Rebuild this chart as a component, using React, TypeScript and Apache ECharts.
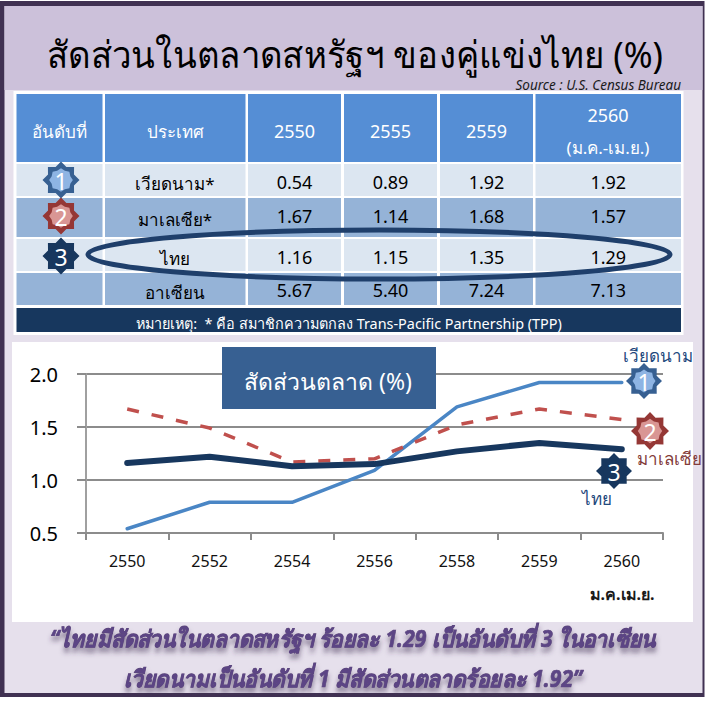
import React, { useEffect, useRef } from "react";
import * as echarts from "echarts";

const pageTitle = "สัดส่วนในตลาดสหรัฐฯ ของคู่แข่งไทย (%)";
const sourceText = "Source : U.S. Census Bureau";
const tableHeaders = ["อันดับที่", "ประเทศ", "2550", "2555", "2559"];
const lastHeader = ["2560", "(ม.ค.-เม.ย.)"];
const tableCountries = ["เวียดนาม*", "มาเลเซีย*", "ไทย", "อาเซียน"];
const row2550 = ["0.54", "1.67", "1.16", "5.67"];
const row2555 = ["0.89", "1.14", "1.15", "5.40"];
const row2559 = ["1.92", "1.68", "1.35", "7.24"];
const row2560 = ["1.92", "1.57", "1.29", "7.13"];
const noteText = "หมายเหตุ:  * คือ สมาชิกความตกลง Trans-Pacific Partnership (TPP)";
const chartTitle = "สัดส่วนตลาด (%)";
const years = ["2550", "2552", "2554", "2556", "2558", "2559", "2560"];
const vietnam = [0.54, 0.79, 0.79, 1.09, 1.69, 1.92, 1.92];
const malaysia = [1.67, 1.49, 1.17, 1.2, 1.52, 1.67, 1.57];
const thailand = [1.16, 1.22, 1.13, 1.15, 1.27, 1.35, 1.29];
const quote1 = "“ไทยมีสัดส่วนในตลาดสหรัฐฯ ร้อยละ 1.29 เป็นอันดับที่ 3 ในอาเซียน";
const quote2 = "เวียดนามเป็นอันดับที่ 1 มีสัดส่วนตลาดร้อยละ 1.92”";

const FONT = "'Noto Sans', sans-serif";
const colX = [[16.5, 102.5], [105, 245.5], [248, 341], [344, 437], [440, 533], [535.5, 681]];
const rowY = [[164, 196], [198, 237], [239, 271], [273, 305]];
const countryY = [183, 219, 258, 292];
const valueY = [182, 216, 257, 290];

function txt(x: number, y: number, text: string, size: number, fill: string, z = 1, extra: any = {}, scaleX = 1) {
  return {
    type: "text", x, y, z, scaleX,
    style: { text, fontSize: size, fill, fontFamily: FONT, align: "center", verticalAlign: "middle", ...extra },
  };
}
function rect(x: number, y: number, w: number, h: number, fill: string, z = 0, extra: any = {}) {
  return { type: "rect", z, shape: { x, y, width: w, height: h }, style: { fill, ...extra } };
}
function starPts(cx: number, cy: number, rx: number, ry: number, k: number) {
  const pts: number[][] = [];
  for (let i = 0; i < 16; i++) {
    const a = (Math.PI * i) / 8 - Math.PI / 2;
    const f = i % 2 === 0 ? 1 : k;
    pts.push([cx + rx * f * Math.cos(a), cy + ry * f * Math.sin(a)]);
  }
  return pts;
}
function badge(cx: number, cy: number, r: number, outer: string, inner: string, n: string, z: number) {
  return [
    { type: "polygon", z, shape: { points: starPts(cx, cy, r, r, 0.76) }, style: { fill: outer } },
    { type: "polygon", z: z + 0.1, shape: { points: starPts(cx, cy, r * 0.64, r * 0.64, 0.85) }, style: { fill: inner } },
    txt(cx, cy + 1, n, 23, "#ffffff", z + 0.2),
  ];
}

export default function App() {
  const ref = useRef<HTMLDivElement>(null);
  useEffect(() => {
    const chart = echarts.init(ref.current!, undefined, { renderer: "svg" });
    const g: any[] = [];
    g.push(rect(0, 1, 704.5, 696, "#403152", -5));
    g.push(rect(4.5, 6, 698, 687, "#e6e0ec", -4));
    g.push(rect(4.5, 6, 698, 84, "#ccc1da", -3));
    g.push(txt(355, 54, pageTitle, 37, "#000000", 1, {}, 0.94));
    g.push(txt(681, 85, sourceText, 13.5, "#1a1a1a", 1, { align: "right", fontStyle: "italic" }));
    g.push(rect(13.5, 91, 670, 244, "#ffffff", -2));
    colX.forEach(([a, b]) => {
      g.push(rect(a, 94, b - a, 68, "#558ed5", -1));
      rowY.forEach(([t, bt], r) => g.push(rect(a, t, b - a, bt - t, r % 2 === 0 ? "#dce6f1" : "#95b3d7", -1)));
    });
    tableHeaders.forEach((h, i) => g.push(txt((colX[i][0] + colX[i][1]) / 2, 131, h, i < 2 ? 17 : 18, "#ffffff")));
    g.push(txt(608, 115, lastHeader[0], 18, "#ffffff"));
    g.push(txt(608, 147, lastHeader[1], 17, "#ffffff"));
    tableCountries.forEach((c, r) => {
      g.push(txt(175, countryY[r], c, 17, "#000000"));
      [row2550, row2555, row2559, row2560].forEach((col, i) => {
        g.push(txt((colX[i + 2][0] + colX[i + 2][1]) / 2, valueY[r], col[r], 18, "#000000"));
      });
    });
    g.push(rect(16.5, 308, 664.5, 24, "#17375e", -1));
    g.push(txt(349, 323, noteText, 14.4, "#ffffff"));
    g.push({
      type: "ellipse", z: 0.5,
      shape: { cx: 379, cy: 254.5, rx: 291, ry: 24.5 },
      style: { fill: "transparent", stroke: "#1f3f6b", lineWidth: 5 },
    });
    g.push(...badge(61, 180, 18.5, "#376092", "#8eb4e3", "1", 3));
    g.push(...badge(61, 216, 18.5, "#953735", "#d99694", "2", 3));
    g.push(...badge(61, 256, 18.5, "#17375e", "#17375e", "3", 3));

    g.push(rect(12, 342, 681, 280, "#ffffff", -1));
    g.push(rect(222, 347, 214, 62, "#376092", 3));
    g.push(txt(328, 381, chartTitle, 23, "#ffffff", 4));
    g.push(...badge(644, 381, 18, "#376092", "#8eb4e3", "1", 5));
    g.push(...badge(650, 431, 19, "#953735", "#d99694", "2", 5));
    g.push(...badge(614, 471, 18, "#17375e", "#17375e", "3", 5));
    g.push(txt(658, 355, "เวียดนาม", 17, "#1f497d", 6));
    g.push(txt(669, 458, "มาเลเซีย", 17, "#843c3a", 6));
    g.push(txt(597, 498, "ไทย", 17, "#1f497d", 6));
    g.push(txt(622, 594, "ม.ค.เม.ย.", 16, "#1a1a1a", 6, { fontWeight: "bold" }));
    const shadow = {
      fontWeight: "bold", fontStyle: "italic", stroke: "#5f497a", lineWidth: 0.7,
      textShadowColor: "rgba(64,49,82,0.55)", textShadowBlur: 5, textShadowOffsetY: 5,
    };
    g.push(txt(353, 638, quote1, 23, "#5b4585", 6, shadow, 0.92));
    g.push(txt(353, 678, quote2, 23, "#5b4585", 6, shadow, 0.92));

    const line = (name: string, data: number[], color: string, width: number, type: any, z: number, cap: string) => ({
      name, type: "line", data, z, symbol: "none", smooth: false,
      lineStyle: { color, width, type, cap },
    });
    chart.setOption({
      animation: false,
      backgroundColor: "#ffffff",
      grid: { left: 86, right: 42, top: 374, bottom: 169, containLabel: false },
      graphic: g,
      xAxis: {
        type: "category", z: 1, data: years, boundaryGap: true,
        axisLine: { lineStyle: { color: "#8c8c8c", width: 2 } },
        axisTick: { show: true, alignWithLabel: false, length: 7, lineStyle: { color: "#8c8c8c", width: 2 } },
        axisLabel: { color: "#111111", fontSize: 16, fontFamily: FONT, margin: 20, interval: 0 },
        splitLine: { show: false },
      },
      yAxis: {
        type: "value", z: 1, min: 0.5, max: 2, interval: 0.5,
        axisLine: { show: true, lineStyle: { color: "#a0a0a0", width: 2 } },
        axisTick: { show: true, length: 9, lineStyle: { color: "#8c8c8c", width: 2 } },
        axisLabel: { color: "#000000", fontSize: 20, fontFamily: FONT, margin: 28, formatter: (v: number) => v.toFixed(1) },
        splitLine: { show: true, lineStyle: { color: "#8c8c8c", width: 2 } },
      },
      series: [
        line("เวียดนาม", vietnam, "#4a86c5", 3.5, "solid", 2, "round"),
        line("มาเลเซีย", malaysia, "#c0504d", 3.5, [12, 13], 2.1, "butt"),
        line("ไทย", thailand, "#17375e", 6, "solid", 2.2, "round"),
      ],
    });
    return () => chart.dispose();
  }, []);
  return <div ref={ref} style={{ position: "absolute", left: 0, top: 0, width: 705, height: 702 }} />;
}
